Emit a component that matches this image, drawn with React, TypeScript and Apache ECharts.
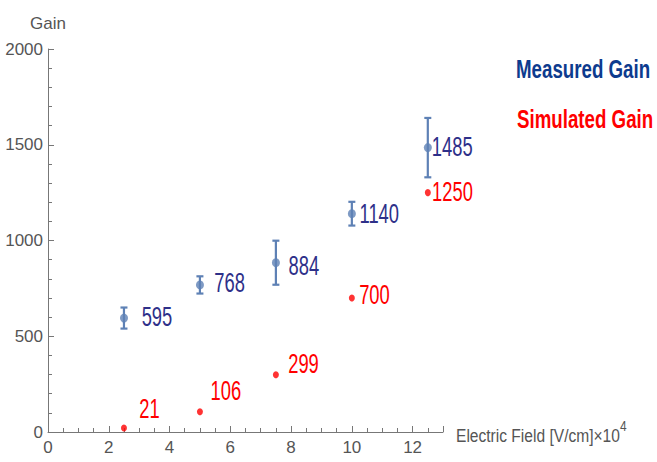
import React, { useEffect, useRef } from "react";
import * as echarts from "echarts";

const fields = [2.5, 5, 7.5, 10, 12.5];
const measuredGain = [595, 768, 884, 1140, 1485];
const measuredError = [55, 45, 115, 62, 155];
const simulatedGain = [21, 106, 299, 700, 1250];

const measuredLabelOffsets = [[17.7, -1.6], [14.3, -2.7], [12.6, 2.5], [7.7, 0], [4, -0.5]];
const simulatedLabelOffsets = [[15.3, -19], [10.7, -21], [12.3, -11], [7.3, -3], [4.3, -1]];

const FONT = "'Liberation Sans', Arial, sans-serif";
const BLUE = "#5E81B5";
const NAVY = "#2E3089";
const RED = "#FF0000";

function labelSeries(name: string, values: number[], offsets: number[][], color: string) {
  return {
    type: "custom",
    name,
    data: fields.map((x, i) => [x, values[i]]),
    renderItem: (params: any, api: any) => {
      const i = params.dataIndex;
      const p = api.coord([api.value(0), api.value(1)]);
      const off = offsets[i];
      return {
        type: "text",
        x: p[0] + off[0],
        y: p[1] + off[1],
        scaleX: 0.68,
        style: {
          text: String(api.value(1)),
          fill: color,
          fontSize: 27,
          fontFamily: FONT,
          align: "left",
          verticalAlign: "middle",
        },
      };
    },
    z: 4,
  };
}

export default function App() {
  const ref = useRef<HTMLDivElement>(null);
  useEffect(() => {
    document.body.style.margin = "0";
    const chart = echarts.init(ref.current!, null, { renderer: "svg" });
    const option: any = {
      animation: false,
      backgroundColor: "#ffffff",
      grid: { left: 48, right: 214, top: 49, bottom: 30, containLabel: false },
      xAxis: {
        type: "value",
        min: 0,
        max: 13,
        interval: 2,
        axisLine: { show: true, lineStyle: { color: "#777777", width: 1 } },
        axisTick: { show: true, inside: true, length: 6, lineStyle: { color: "#777777" } },
        minorTick: { show: true, splitNumber: 4, length: 4, lineStyle: { color: "#777777" } },
        splitLine: { show: false },
        axisLabel: {
          color: "#555555",
          fontSize: 17,
          fontFamily: FONT,
          margin: 7,
          showMaxLabel: false,
          formatter: (v: number) => (v % 2 === 0 ? String(v) : ""),
        },
      },
      yAxis: {
        type: "value",
        min: 0,
        max: 2000,
        interval: 500,
        name: "Gain",
        nameLocation: "end",
        nameGap: 17,
        nameTextStyle: { color: "#555555", fontSize: 17, fontFamily: FONT, align: "center" },
        axisLine: { show: true, lineStyle: { color: "#777777", width: 1 } },
        axisTick: { show: true, inside: true, length: 6, lineStyle: { color: "#777777" } },
        minorTick: { show: true, splitNumber: 5, length: 4, lineStyle: { color: "#777777" } },
        splitLine: { show: false },
        axisLabel: {
          color: "#555555",
          fontSize: 17,
          fontFamily: FONT,
          margin: 5,
          formatter: (v: number) => String(v),
        },
      },
      series: [
        {
          type: "custom",
          name: "Measured error",
          data: fields.map((x, i) => [x, measuredGain[i] - measuredError[i], measuredGain[i] + measuredError[i]]),
          renderItem: (params: any, api: any) => {
            const x = api.value(0);
            const lo = api.coord([x, api.value(1)]);
            const hi = api.coord([x, api.value(2)]);
            const c = 3.5;
            const style = { stroke: BLUE, lineWidth: 2.2 };
            return {
              type: "group",
              children: [
                { type: "line", shape: { x1: lo[0], y1: lo[1], x2: hi[0], y2: hi[1] }, style },
                { type: "line", shape: { x1: lo[0] - c, y1: lo[1], x2: lo[0] + c, y2: lo[1] }, style },
                { type: "line", shape: { x1: hi[0] - c, y1: hi[1], x2: hi[0] + c, y2: hi[1] }, style },
              ],
            };
          },
          z: 2,
        },
        {
          type: "scatter",
          name: "Measured Gain",
          symbol: "circle",
          symbolSize: [8, 9],
          itemStyle: { color: BLUE },
          data: fields.map((x, i) => [x, measuredGain[i]]),
          z: 3,
        },
        {
          type: "scatter",
          name: "Simulated Gain",
          symbol: "circle",
          symbolSize: [6, 7],
          itemStyle: { color: RED },
          data: fields.map((x, i) => [x, simulatedGain[i]]),
          z: 3,
        },
        labelSeries("Measured labels", measuredGain, measuredLabelOffsets, NAVY),
        labelSeries("Simulated labels", simulatedGain, simulatedLabelOffsets, RED),
      ],
      graphic: [
        {
          type: "text",
          x: 516,
          y: 68.5,
          scaleX: 0.72,
          style: {
            text: "Measured Gain",
            fill: "#0D3B8E",
            fontSize: 26,
            fontWeight: "bold",
            fontFamily: FONT,
            verticalAlign: "middle",
          },
        },
        {
          type: "text",
          x: 517,
          y: 118.5,
          scaleX: 0.72,
          style: {
            text: "Simulated Gain",
            fill: RED,
            fontSize: 26,
            fontWeight: "bold",
            fontFamily: FONT,
            verticalAlign: "middle",
          },
        },
        {
          type: "text",
          x: 456,
          y: 435.5,
          scaleX: 0.82,
          style: {
            text: "Electric Field [V/cm]×10",
            fill: "#555555",
            fontSize: 19,
            fontFamily: FONT,
            verticalAlign: "middle",
          },
        },
        {
          type: "text",
          x: 620,
          y: 426,
          scaleX: 0.85,
          style: {
            text: "4",
            fill: "#555555",
            fontSize: 14,
            fontFamily: FONT,
            verticalAlign: "middle",
          },
        },
      ],
    };
    chart.setOption(option);
    return () => chart.dispose();
  }, []);
  return <div ref={ref} style={{ position: "fixed", left: 0, top: 0, width: 657, height: 462 }} />;
}
